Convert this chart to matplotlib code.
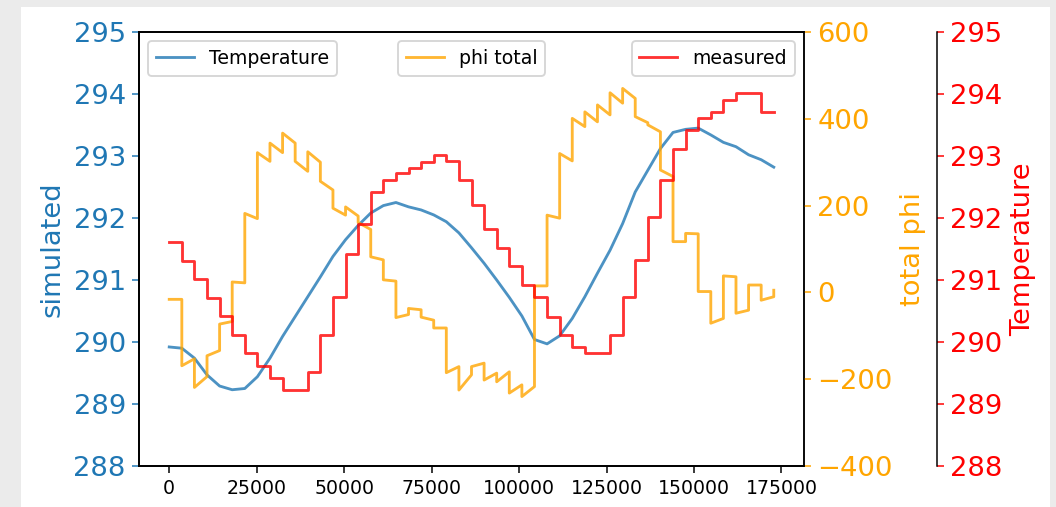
# simulated vs measured temperature with total phi on a second axis
import numpy as np
import matplotlib.pyplot as plt
from matplotlib.patches import Rectangle

# time in seconds, one value per hour over two days
t = np.arange(0, 172801, 3600)

# simulated temperature [K], hourly
simulated = [289.92, 289.90, 289.74, 289.47, 289.29, 289.23, 289.25, 289.44, 289.74, 290.09,
             290.41, 290.73, 291.05, 291.38, 291.65, 291.88, 292.08, 292.20, 292.25, 292.18,
             292.13, 292.05, 291.94, 291.76, 291.52, 291.27, 291.00, 290.72, 290.42, 290.04,
             289.97, 290.10, 290.38, 290.73, 291.11, 291.48, 291.91, 292.42, 292.77, 293.12,
             293.38, 293.43, 293.45, 293.34, 293.22, 293.15, 293.02, 292.94, 292.82]

# measured temperature [K], one level per hour
measured = [291.61, 291.31, 291.01, 290.71, 290.42, 290.12, 289.82, 289.62, 289.42, 289.23,
            289.23, 289.52, 290.12, 290.72, 291.42, 291.91, 292.42, 292.61, 292.72, 292.81,
            292.91, 293.02, 292.92, 292.61, 292.21, 291.82, 291.52, 291.23, 290.92, 290.72,
            290.41, 290.11, 289.92, 289.82, 289.82, 290.11, 290.72, 291.32, 292.02, 292.62,
            293.11, 293.42, 293.61, 293.71, 293.90, 294.01, 294.01, 293.71]

# total phi: value at the start and at the end of each hour
phi_start = [-16, -169, -219, -146, -73, 24, 182, 322, 344, 367, 302, 324, 256, 194, 197, 161,
             82, 29, -58, -37, -57, -82, -185, -225, -171, -202, -206, -232, -240, 15, 178, 320,
             401, 416, 432, 460, 470, 405, 386, 282, 117, 136, 2, -71, 38, -48, 17, -18]
phi_end = [-16, -153, -194, -134, -67, 22, 170, 302, 322, 344, 279, 300, 236, 178, 176, 145,
           75, 26, -51, -40, -64, -82, -171, -190, -163, -186, -183, -213, -217, 15, 171, 303,
           382, 393, 409, 436, 447, 391, 370, 267, 117, 135, 2, -60, 36, -41, 17, -10]
phi_last = 5

phi_x, phi_y = [], []
for k in range(len(phi_start)):
    phi_x += [t[k], t[k + 1]]
    phi_y += [phi_start[k], phi_end[k]]
phi_x.append(t[-1])
phi_y.append(phi_last)

dpi = 136
fig = plt.figure(figsize=(1056 / dpi, 507 / dpi), dpi=dpi, facecolor='#ebebeb')
fig.patches.append(Rectangle((21 / 1056, 0), 1029 / 1056, 500 / 507, transform=fig.transFigure,
                             facecolor='white', edgecolor='none', zorder=-10))

ax1 = fig.add_axes([139 / 1056, 41 / 507, 665 / 1056, 434 / 507])
ax2 = ax1.twinx()
ax3 = ax1.twinx()
ax3.spines['right'].set_position(('axes', 1.2))

ax1.plot(t, simulated, color='tab:blue', alpha=0.8, label='Temperature')
ax2.plot(phi_x, phi_y, color='orange', alpha=0.8, label='phi total')
ax3.step(t, measured + [measured[-1]], where='post', color='red', alpha=0.8, label='measured')

ax1.set_ylim(288, 295)
ax2.set_ylim(-400, 600)
ax3.set_ylim(288, 295)
ax2.set_yticks(np.arange(-400, 601, 200))

ax1.set_ylabel('simulated', color='tab:blue', fontsize=14.5)
ax2.set_ylabel('total phi', color='orange', fontsize=14.5)
ax3.set_ylabel('Temperature', color='red', fontsize=14.5)
ax1.tick_params(axis='y', colors='tab:blue', labelsize=14.5)
ax2.tick_params(axis='y', colors='orange', labelsize=14.5)
ax3.tick_params(axis='y', colors='red', labelsize=14.5)

ax1.legend(loc='upper left')
ax2.legend(loc='upper center')
ax3.legend(loc='upper right')

fig.savefig('out.png', dpi=dpi, facecolor=fig.get_facecolor())
